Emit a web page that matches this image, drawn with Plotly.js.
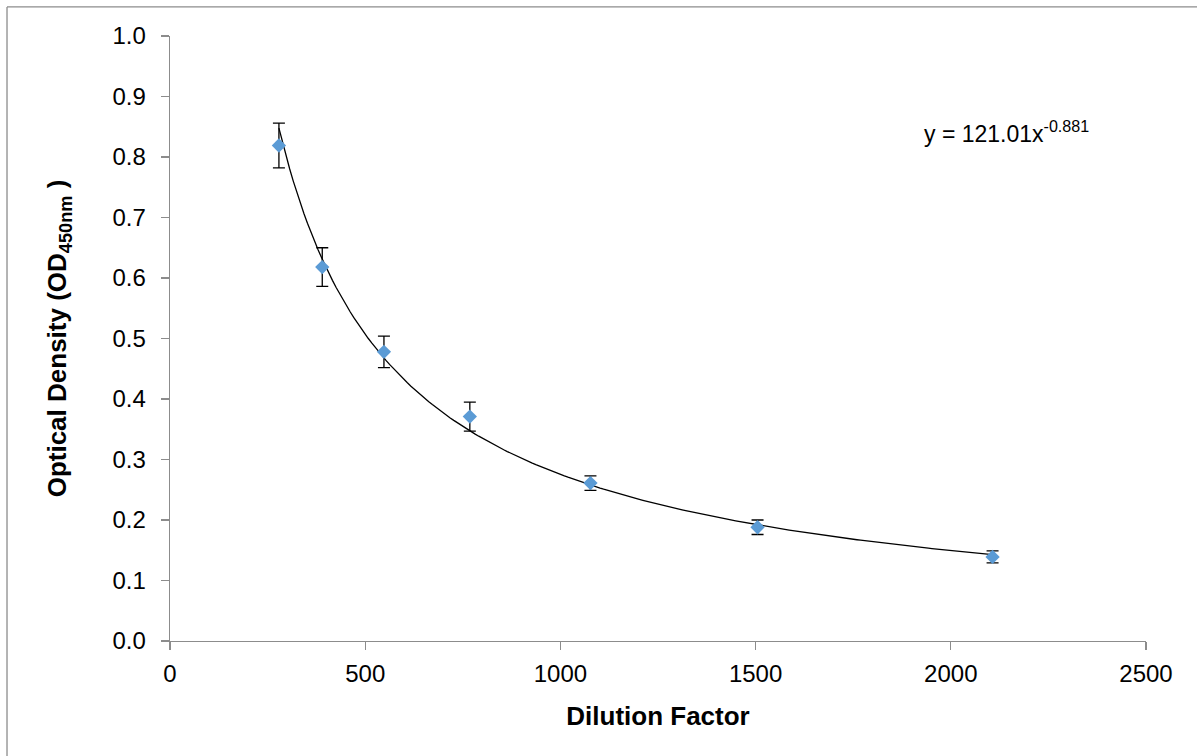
<!DOCTYPE html>
<html>
<head>
<meta charset="utf-8">
<script src="https://cdn.plot.ly/plotly-3.0.1.min.js"></script>
<style>
  html, body { margin: 0; padding: 0; background: #fff; }
  #chart { width: 1197px; height: 756px; }
</style>
</head>
<body>
<div id="chart"></div>
<script>
// Data
const dilution = [279, 390, 548, 768, 1077, 1505, 2107];
const od = [0.819, 0.618, 0.478, 0.371, 0.261, 0.188, 0.139];
const odError = [0.037, 0.032, 0.026, 0.024, 0.012, 0.012, 0.010];

// Power trendline shown on the chart: y = 121.01 x^-0.881
const trendCoef = 121.01;
const trendExp = -0.881;
const trendStart = 279;
const trendEnd = 2107;

const yTickVals = [0, 0.1, 0.2, 0.3, 0.4, 0.5, 0.6, 0.7, 0.8, 0.9, 1.0];
const xTickVals = [0, 500, 1000, 1500, 2000, 2500];

const trendX = [];
const trendY = [];
const nSteps = 200;
for (let i = 0; i <= nSteps; i++) {
  const x = trendStart + (trendEnd - trendStart) * i / nSteps;
  trendX.push(x);
  trendY.push(trendCoef * Math.pow(x, trendExp));
}

const font = "Liberation Sans, Arial, sans-serif";

const traces = [
  {
    x: trendX, y: trendY, mode: 'lines', type: 'scatter',
    line: { color: '#000000', width: 1.3 },
    hoverinfo: 'skip', showlegend: false
  },
  {
    x: dilution, y: od, mode: 'markers', type: 'scatter',
    marker: { symbol: 'diamond', color: '#5b9bd5', size: 11 },
    error_y: { type: 'data', array: odError, visible: true, color: '#000000', thickness: 1.3, width: 6 },
    showlegend: false
  }
];

const axisColor = '#8c8c8c';

const layout = {
  width: 1197, height: 756,
  margin: { l: 170, r: 51, t: 36, b: 115 },
  paper_bgcolor: '#ffffff', plot_bgcolor: '#ffffff',
  font: { family: font, color: '#000000' },
  xaxis: {
    range: [0, 2500], tickvals: xTickVals, ticktext: xTickVals.map(String),
    showgrid: false, zeroline: false, showline: true, linecolor: axisColor, linewidth: 1.3,
    ticks: 'outside', ticklen: 8, tickcolor: axisColor, tickwidth: 1.3, ticklabelstandoff: 3,
    tickfont: { size: 24, family: font, color: '#000' },
    title: { text: '<b>Dilution Factor</b>', font: { size: 26, family: font, color: '#000' }, standoff: 20 }
  },
  yaxis: {
    range: [0, 1.0], tickvals: yTickVals, ticktext: yTickVals.map(v => v.toFixed(1)),
    showgrid: false, zeroline: false, showline: true, linecolor: axisColor, linewidth: 1.3,
    ticks: 'outside', ticklen: 8, tickcolor: axisColor, tickwidth: 1.3, ticklabelstandoff: 10,
    tickfont: { size: 24, family: font, color: '#000' },
    title: { text: '<b>Optical Density (OD<sub>450nm</sub> )</b>', font: { size: 26, family: font, color: '#000' }, standoff: 38 }
  },
  annotations: [
    {
      x: 1927, y: 0.842, xref: 'x', yref: 'y', xanchor: 'left', yanchor: 'middle',
      text: 'y = 121.01x<sup>-0.881</sup>', showarrow: false,
      font: { size: 23, family: font, color: '#000' }
    }
  ],
  shapes: [
    { type: 'line', xref: 'paper', yref: 'paper', x0: -0.167, x1: 1.1, y0: 1.048, y1: 1.048,
      line: { color: '#8c8c8c', width: 1.3 } },
    { type: 'line', xref: 'paper', yref: 'paper', x0: -0.167, x1: -0.167, y0: 1.048, y1: -0.25,
      line: { color: '#8c8c8c', width: 1.3 } }
  ]
};

Plotly.newPlot('chart', traces, layout, { displayModeBar: false, staticPlot: true });
</script>
</body>
</html>
